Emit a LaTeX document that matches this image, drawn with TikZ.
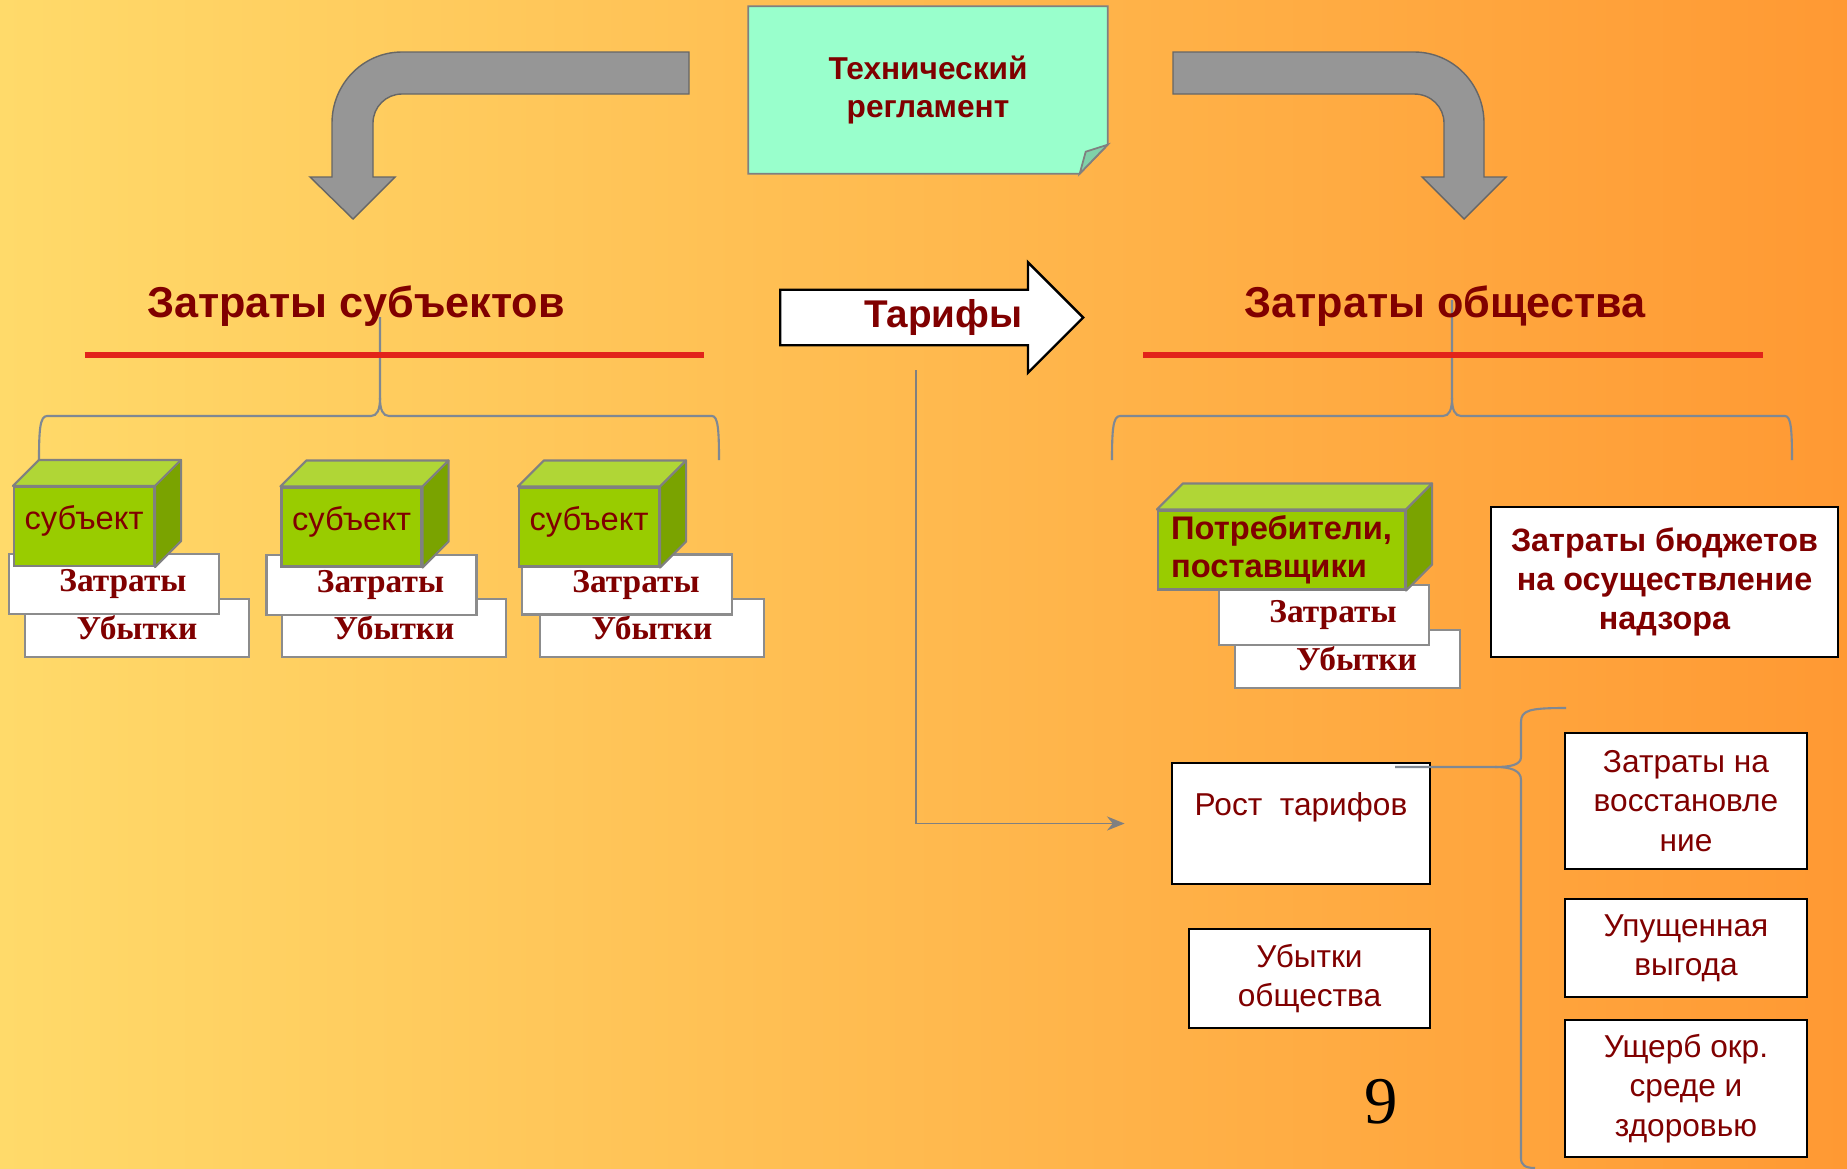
\documentclass[tikz,border=0pt]{standalone}
\usepackage{fontspec}
\setmainfont{Liberation Sans}
\newfontfamily\romfont{Liberation Serif}
\usetikzlibrary{arrows.meta,positioning,calc,shapes.arrows,backgrounds}

\definecolor{dred}{HTML}{800000}
\definecolor{bgleft}{HTML}{FFDA6A}
\definecolor{bgmid}{HTML}{FFC04F}
\definecolor{bgright}{HTML}{FF9933}
\definecolor{cubefrontc}{HTML}{99CC00}
\definecolor{cubetopc}{HTML}{B0D636}
\definecolor{cubesidec}{HTML}{7AA300}
\definecolor{mint}{HTML}{99FFCC}
\definecolor{mintfold}{HTML}{7FD1A9}
\definecolor{bentgray}{HTML}{969696}
\definecolor{linered}{HTML}{E2231A}
\definecolor{bracegray}{HTML}{7F8893}

\begin{document}
\begin{tikzpicture}[
  font=\fontsize{9}{11.2}\selectfont,
  cube/.style={draw=gray, line width=0.6pt, fill=cubefrontc, text=dred, inner sep=0pt, minimum width=#1, minimum height=0.79cm, font=\fontsize{9.3}{11}\selectfont},
  cube/.default=1.40cm,
  subj/.style={cube, text depth=0.17cm},
  topface/.style={fill=cubetopc, draw=gray, line width=0.6pt, line join=round},
  sideface/.style={fill=cubesidec, draw=gray, line width=0.6pt, line join=round},
  card/.style={draw=gray!90, line width=0.6pt, fill=white, text=dred, inner sep=0pt, minimum width=#1, font=\romfont\bfseries\fontsize{9.5}{11}\selectfont},
  card/.default=2.10cm,
  nudge/.style={execute at begin node={\hspace*{0.18cm}}},
  box/.style={draw=black, line width=0.8pt, fill=white, text=dred, align=center, inner sep=0pt, minimum width=2.42cm},
  head/.style={text=dred, font=\bfseries\fontsize{12.3}{14}\selectfont, anchor=base},
  note/.style={text=dred, font=\bfseries\fontsize{9}{10.6}\selectfont, align=center, inner sep=0pt, minimum width=3.58cm, minimum height=1.66cm},
  tarrow/.style={single arrow, draw=black, line width=0.7pt, fill=white, text=dred, font=\bfseries\fontsize{11}{13}\selectfont, minimum height=3.03cm, inner xsep=0pt, inner ysep=0.085cm, single arrow head extend=0.275cm, single arrow tip angle=90},
  bent/.style={fill=bentgray, draw=gray!80!black, line width=0.4pt},
  brace/.style={draw=bracegray, line width=0.6pt},
  redline/.style={draw=linered, line width=1.7pt},
  conn/.style={draw=gray, line width=0.5pt, -{Stealth[length=5pt, width=4pt]}},
]
\useasboundingbox (0,0) rectangle (18.47,-11.69);
\begin{scope}[on background layer]
  \shade[left color=bgleft, middle color=bgmid, right color=bgright] (0,0) rectangle (18.47,-11.69);
\end{scope}

% regulation note and the two bent arrows
\node[note] (reg) at (9.28,-0.90) {Технический\\регламент};
\begin{scope}[on background layer]
  \filldraw[fill=mint, draw=gray, line width=0.5pt] (reg.north west) -- (reg.north east) -- ([yshift=0.29cm]reg.south east) -- ([xshift=-0.28cm]reg.south east) -- (reg.south west) -- cycle;
  \filldraw[fill=mintfold, draw=gray, line width=0.5pt] ([yshift=0.29cm]reg.south east) -- ([xshift=-0.22cm, yshift=0.22cm]reg.south east) -- ([xshift=-0.28cm]reg.south east) -- cycle;
\end{scope}
\path[bent] (6.89,-0.52) -- (4.02,-0.52) .. controls (3.63,-0.52) and (3.32,-0.84) .. (3.32,-1.23) -- (3.32,-1.77) -- (3.10,-1.77) -- (3.53,-2.19) -- (3.95,-1.77) -- (3.73,-1.77) -- (3.73,-1.23) .. controls (3.73,-1.07) and (3.86,-0.94) .. (4.02,-0.94) -- (6.89,-0.94) -- cycle;
\path[bent] (11.73,-0.52) -- (14.14,-0.52) .. controls (14.53,-0.52) and (14.84,-0.84) .. (14.84,-1.23) -- (14.84,-1.77) -- (15.06,-1.77) -- (14.64,-2.19) -- (14.22,-1.77) -- (14.44,-1.77) -- (14.44,-1.23) .. controls (14.44,-1.07) and (14.31,-0.94) .. (14.14,-0.94) -- (11.73,-0.94) -- cycle;

% braces under the headings
\draw[brace] (0.39,-4.60) .. controls (0.39,-4.30) and (0.40,-4.16) .. (0.47,-4.16) -- (3.71,-4.16) .. controls (3.77,-4.16) and (3.80,-4.10) .. (3.80,-3.98) -- (3.80,-3.17);
\draw[brace] (3.80,-3.98) .. controls (3.80,-4.10) and (3.83,-4.16) .. (3.89,-4.16) -- (7.12,-4.16) .. controls (7.18,-4.16) and (7.19,-4.30) .. (7.19,-4.60);
\draw[brace] (11.12,-4.60) .. controls (11.12,-4.30) and (11.13,-4.16) .. (11.20,-4.16) -- (14.43,-4.16) .. controls (14.49,-4.16) and (14.52,-4.10) .. (14.52,-3.98) -- (14.52,-3.00);
\draw[brace] (14.52,-3.98) .. controls (14.52,-4.10) and (14.55,-4.16) .. (14.61,-4.16) -- (17.85,-4.16) .. controls (17.91,-4.16) and (17.92,-4.30) .. (17.92,-4.60);

\node[head] (hsub) at (3.56,-3.17) {Затраты субъектов};
\node[head] (hsoc) at (14.45,-3.17) {Затраты общества};
\draw[redline] (0.845,-3.55) -- (7.04,-3.55);
\draw[redline] (11.43,-3.55) -- (17.63,-3.55);

\node[tarrow, anchor=tail] (tar) at (7.79,-3.175) {\hspace*{0.51cm}Тарифы};

% subjects
\node[card=2.24cm, minimum height=0.58cm] (u1) at (1.37,-6.28) {Убытки};
\node[card=2.24cm, minimum height=0.58cm] (u2) at (3.94,-6.28) {Убытки};
\node[card=2.24cm, minimum height=0.58cm] (u3) at (6.52,-6.28) {Убытки};
\node[card, nudge, minimum height=0.60cm] (z1) at (1.14,-5.84) {Затраты};
\node[card, nudge, minimum height=0.60cm] (z2) at (3.715,-5.85) {Затраты};
\node[card, nudge, minimum height=0.60cm] (z3) at (6.27,-5.845) {Затраты};
\node[subj] (s1) at (0.84,-5.265) {субъект};
\node[subj] (s2) at (3.515,-5.27) {субъект};
\node[subj] (s3) at (5.89,-5.27) {субъект};

% society side
\node[card=2.25cm, nudge, minimum height=0.58cm] (uR) at (13.475,-6.59) {Убытки};
\node[card, nudge, minimum height=0.60cm] (zR) at (13.24,-6.15) {Затраты};
\node[cube=2.47cm, align=left, font=\bfseries\fontsize{9.3}{10.8}\selectfont] (pot) at (12.815,-5.50) {Потребители,\\поставщики};
\foreach \c in {s1,s2,s3,pot} {
  \filldraw[topface] (\c.north west) -- ++(0.26,0.26) -- ($(\c.north east)+(0.26,0.26)$) -- (\c.north east) -- cycle;
  \filldraw[sideface] (\c.north east) -- ++(0.26,0.26) -- ($(\c.south east)+(0.26,0.26)$) -- (\c.south east) -- cycle;
}
\node[box, minimum width=3.47cm, minimum height=1.50cm, font=\bfseries\fontsize{9.2}{11}\selectfont] (bud) at (16.645,-5.82) {Затраты бюджетов\\на осуществление\\надзора};

\node[box, minimum width=2.58cm, minimum height=1.21cm] (rost) at (13.01,-8.235) {Рост~~тарифов\\ ~};
\node[box, minimum width=2.41cm, minimum height=0.99cm] (ubs) at (13.095,-9.785) {Убытки\\общества};
\node[box, minimum height=1.36cm] (vos) at (16.86,-8.01) {Затраты на\\восстановле\\ние};
\node[box, minimum height=0.98cm] (vyg) at (16.86,-9.48) {Упущенная\\выгода};
\node[box, minimum height=1.37cm] (ush) at (16.86,-10.885) {Ущерб окр.\\среде и\\здоровью};

\draw[brace] (15.66,-7.08) .. controls (15.30,-7.08) and (15.21,-7.10) .. (15.21,-7.22) -- (15.21,-7.57) .. controls (15.21,-7.65) and (15.10,-7.67) .. (14.95,-7.67) -- (13.95,-7.67);
\draw[brace] (14.95,-7.67) .. controls (15.10,-7.67) and (15.21,-7.70) .. (15.21,-7.80) -- (15.21,-11.58) .. controls (15.21,-11.65) and (15.25,-11.68) .. (15.35,-11.68);

\draw[conn] ([xshift=1.37cm, yshift=-0.525cm]tar.tail) |- ([xshift=-0.46cm]rost.west);

\node[font=\romfont\fontsize{19}{22}\selectfont, anchor=base] (pg) at (13.81,-11.23) {9};
\end{tikzpicture}
\end{document}
